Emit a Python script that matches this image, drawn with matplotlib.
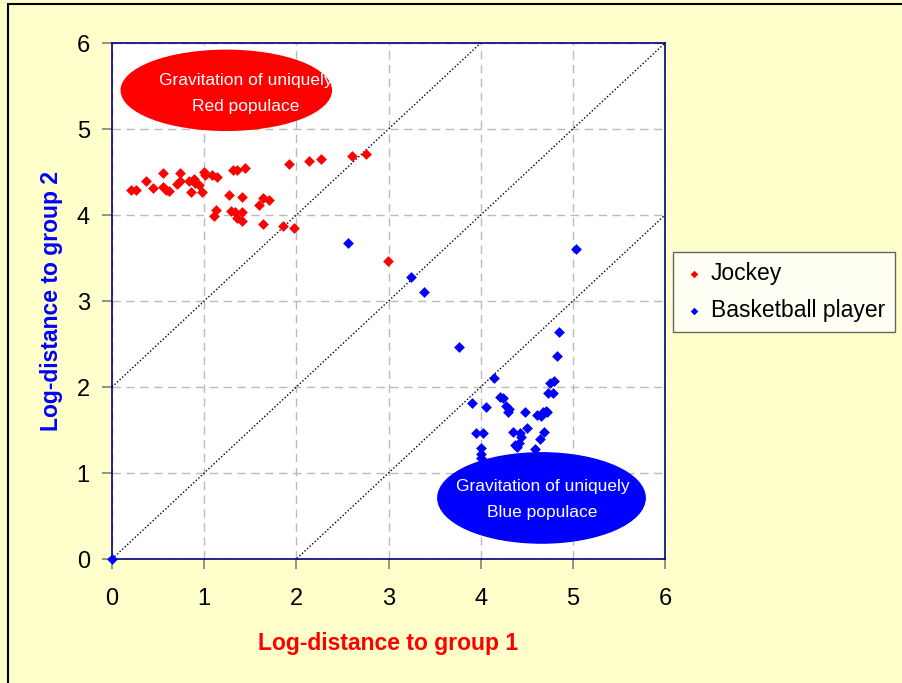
import numpy as np
import matplotlib.pyplot as plt
from matplotlib.patches import Ellipse, Rectangle

plt.rcParams['font.family'] = ['Liberation Sans', 'DejaVu Sans']

# Jockey log-distances
jockey_x = [0.21, 0.26, 0.37, 0.44, 0.55, 0.55, 0.59, 0.62, 0.70, 0.74, 0.74, 0.84,
            0.86, 0.89, 0.90, 0.94, 0.98, 1.00, 1.01, 1.08, 1.14, 1.27, 1.31, 1.36,
            1.41, 1.44, 1.13, 1.11, 1.29, 1.33, 1.41, 1.36, 1.41, 1.59, 1.64, 1.70,
            1.64, 1.86, 1.97, 1.92, 2.14, 2.27, 2.60, 2.76, 2.99]
jockey_y = [4.29, 4.29, 4.39, 4.31, 4.49, 4.32, 4.29, 4.28, 4.36, 4.49, 4.39, 4.39,
            4.27, 4.42, 4.37, 4.35, 4.27, 4.50, 4.47, 4.47, 4.44, 4.23, 4.52, 4.52,
            4.21, 4.55, 4.06, 3.99, 4.05, 4.04, 4.04, 3.96, 3.93, 4.12, 4.20, 4.17,
            3.90, 3.87, 3.85, 4.59, 4.63, 4.65, 4.69, 4.71, 3.46]

# Basketball player log-distances
bball_x = [0.00, 2.56, 3.24, 3.39, 3.76, 5.03, 4.85, 4.83, 4.15, 4.75, 4.80, 4.73,
           4.78, 3.91, 4.06, 4.21, 4.24, 4.28, 4.31, 4.30, 4.48, 4.61, 4.65, 4.68,
           4.71, 4.72, 4.66, 4.50, 4.35, 4.43, 4.44, 4.69, 4.64, 3.95, 4.03, 4.00,
           4.00, 4.37, 4.42, 4.39, 4.59, 4.00]
bball_y = [0.00, 3.67, 3.28, 3.10, 2.47, 3.61, 2.64, 2.36, 2.11, 2.05, 2.07, 1.93,
           1.93, 1.81, 1.77, 1.88, 1.87, 1.78, 1.74, 1.71, 1.71, 1.67, 1.67, 1.71,
           1.72, 1.71, 1.66, 1.52, 1.48, 1.47, 1.42, 1.48, 1.39, 1.46, 1.46, 1.29,
           1.22, 1.33, 1.35, 1.30, 1.28, 1.17]

ticks = [0, 1, 2, 3, 4, 5, 6]
offsets = [2, 0, -2]

fig = plt.figure(figsize=(9.02, 6.83), dpi=100, facecolor='#FFFFCC')
ax = fig.add_axes([112 / 902, 1 - 559 / 683, 553 / 902, 516 / 683])
ax.set_facecolor('white')

# frame around the whole chart area
fig.patches.append(Rectangle((8 / 902, -0.1), 1.2, 1.1 - 4 / 683,
                             transform=fig.transFigure, fill=False,
                             edgecolor='black', linewidth=1.5))

ax.set_xlim(0, 6)
ax.set_ylim(0, 6)
ax.set_xticks(ticks)
ax.set_yticks(ticks)
ax.grid(True, color='#BBBBBB', linestyle=(0, (6, 4)), linewidth=1)
ax.set_axisbelow(True)
for s in ax.spines.values():
    s.set_color('#000080')
    s.set_linewidth(1.2)
ax.tick_params(direction='out', length=7, color='#808080', width=1.2,
               labelsize=17)
ax.tick_params(axis='x', pad=14)
ax.tick_params(axis='y', pad=9)

xs = np.array([0, 6])
for off in offsets:
    ax.plot(xs, xs + off, color='black', linestyle=(0, (1, 1.5)),
            linewidth=1, zorder=2)

ax.scatter(jockey_x, jockey_y, marker='D', s=30, color='#FF0000',
           linewidths=0, label='Jockey', zorder=3, clip_on=False)
ax.scatter(bball_x, bball_y, marker='D', s=30, color='#0000FF',
           linewidths=0, label='Basketball player', zorder=3, clip_on=False)

# highlighted regions
red_ell = Ellipse((1.24, 5.45), 2.28, 0.93, color='#FF0000', zorder=4)
ax.add_patch(red_ell)
for txt, yy in [('Gravitation of uniquely', 5.56), ('Red populace', 5.26)]:
    t = ax.text(1.45, yy, txt, color='white', fontsize=12.5, ha='center',
                va='center', zorder=5)
    t.set_clip_path(red_ell)

blue_ell = Ellipse((4.66, 0.71), 2.25, 1.05, color='#0000FF', zorder=4)
ax.add_patch(blue_ell)
for txt, yy in [('Gravitation of uniquely', 0.84), ('Blue populace', 0.54)]:
    t = ax.text(4.67, yy, txt, color='white', fontsize=12.5, ha='center',
                va='center', zorder=5)
    t.set_clip_path(blue_ell)

ax.set_xlabel('Log-distance to group 1', color='#FF0000', fontsize=16.5,
              fontweight='bold', labelpad=16)
ax.set_ylabel('Log-distance to group 2', color='#0000FF', fontsize=16.5,
              fontweight='bold', labelpad=10)

leg = fig.legend(loc='upper left', bbox_to_anchor=(673 / 902, 1 - 252 / 683),
                 fontsize=16.5, frameon=True, fancybox=False, handletextpad=0.3,
                 borderpad=0.45, labelspacing=0.6, markerscale=0.7,
                 handlelength=0.9, borderaxespad=0)
leg.get_frame().set_edgecolor('#404040')
leg.get_frame().set_linewidth(1)

fig.savefig('out.png', dpi=100, facecolor=fig.get_facecolor())
